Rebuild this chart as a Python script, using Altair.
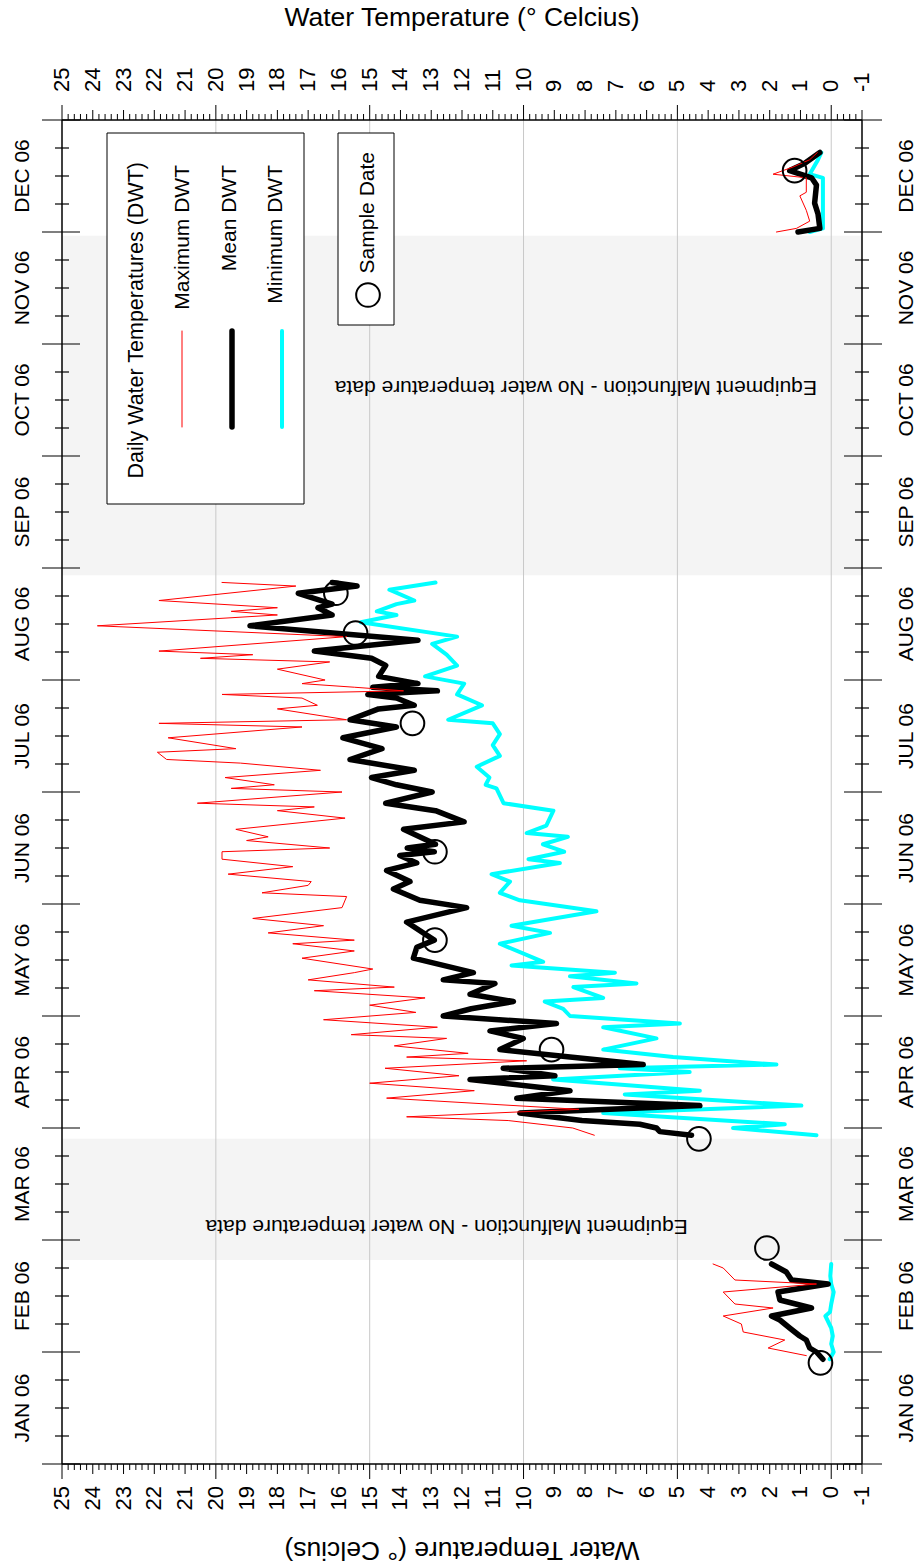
import altair as alt
import pandas as pd

FONT = "Liberation Sans"
W, H = 800, 1344  # plot area in pixels

# ---- daily water temperatures (deg C) -------------------------------------
max_dates = [
    "2006-01-31", "2006-02-02", "2006-02-04", "2006-02-06", "2006-02-08", "2006-02-10",
    "2006-02-12", "2006-02-13", "2006-02-16", "2006-02-18", "2006-02-19", "2006-02-22",
    "2006-02-23",
    "2006-03-30", "2006-04-01", "2006-04-03", "2006-04-04", "2006-04-06", "2006-04-09",
    "2006-04-11", "2006-04-13", "2006-04-15", "2006-04-17", "2006-04-19", "2006-04-20",
    "2006-04-21", "2006-04-23", "2006-04-25", "2006-04-26", "2006-04-28", "2006-04-30",
    "2006-05-02", "2006-05-04", "2006-05-06", "2006-05-08", "2006-05-09", "2006-05-11",
    "2006-05-13", "2006-05-14", "2006-05-17", "2006-05-19", "2006-05-21", "2006-05-22",
    "2006-05-24", "2006-05-26", "2006-05-28", "2006-05-31", "2006-06-03", "2006-06-04",
    "2006-06-06", "2006-06-07", "2006-06-09", "2006-06-11", "2006-06-13", "2006-06-15",
    "2006-06-16", "2006-06-18", "2006-06-19", "2006-06-21", "2006-06-24", "2006-06-26",
    "2006-06-27", "2006-06-28", "2006-07-01", "2006-07-02", "2006-07-03", "2006-07-05",
    "2006-07-07", "2006-07-09", "2006-07-10", "2006-07-12", "2006-07-13", "2006-07-16",
    "2006-07-19", "2006-07-20", "2006-07-21", "2006-07-24", "2006-07-25", "2006-07-27",
    "2006-07-28", "2006-07-29", "2006-07-30", "2006-07-31", "2006-08-01", "2006-08-04",
    "2006-08-06", "2006-08-07", "2006-08-08", "2006-08-09", "2006-08-13", "2006-08-16",
    "2006-08-19", "2006-08-20", "2006-08-21", "2006-08-23", "2006-08-27", "2006-08-28",
    "2006-12-01", "2006-12-02", "2006-12-04", "2006-12-07", "2006-12-11", "2006-12-12",
    "2006-12-16", "2006-12-17", "2006-12-19", "2006-12-21", "2006-12-23",
]
max_temps = [
    0.81, 2.05, 1.51, 2.86, 2.92, 3.51,
    1.89, 3.13, 3.51, 0.48, 3.13, 3.51,
    3.84,
    7.7, 8.4, 10.5, 13.8, 8.2, 14.45,
    11.6, 15.0, 12.1, 14.5, 9.9, 13.8,
    11.8, 14.2, 12.5, 15.6, 12.8, 16.5,
    13.5, 15.0, 13.2, 16.8, 14.2, 17.0,
    15.5, 14.9, 17.2, 15.5, 17.5, 15.5,
    18.3, 16.5, 18.8, 15.9, 15.75, 18.5,
    17.0, 16.9, 19.6, 17.5, 19.8, 19.8,
    16.3, 19.0, 18.3, 19.35, 15.8, 18.0,
    16.8, 20.6, 15.9, 19.5, 18.1, 19.7,
    16.6, 19.2, 21.6, 21.9, 19.35, 21.55,
    17.2, 21.85, 15.75, 18.0, 16.7, 17.2,
    19.8, 13.9, 15.5, 17.2, 16.45, 18.0,
    16.3, 20.5, 18.8, 21.85, 15.75, 23.85,
    18.0, 19.5, 18.0, 21.85, 17.4, 19.8,
    1.78, 1.13, 0.70, 0.81, 1.02, 0.81,
    0.81, 1.89, 1.24, 0.70, 0.45,
]

mean_dates = [
    "2006-01-30", "2006-02-01", "2006-02-02", "2006-02-04", "2006-02-05", "2006-02-07",
    "2006-02-09", "2006-02-10", "2006-02-12", "2006-02-14", "2006-02-16", "2006-02-18",
    "2006-02-19", "2006-02-21", "2006-02-23",
    "2006-03-30", "2006-03-31", "2006-04-01", "2006-04-02", "2006-04-03", "2006-04-05",
    "2006-04-07", "2006-04-09", "2006-04-11", "2006-04-14", "2006-04-15", "2006-04-17",
    "2006-04-18", "2006-04-20", "2006-04-22", "2006-04-25", "2006-04-27", "2006-04-29",
    "2006-05-01", "2006-05-03", "2006-05-05", "2006-05-07", "2006-05-10", "2006-05-11",
    "2006-05-13", "2006-05-17", "2006-05-20", "2006-05-22", "2006-05-27", "2006-05-31",
    "2006-06-02", "2006-06-05", "2006-06-07", "2006-06-10", "2006-06-12", "2006-06-14",
    "2006-06-15", "2006-06-16", "2006-06-17", "2006-06-21", "2006-06-23", "2006-06-26",
    "2006-06-28", "2006-07-01", "2006-07-03", "2006-07-05", "2006-07-07", "2006-07-10",
    "2006-07-13", "2006-07-16", "2006-07-19", "2006-07-21", "2006-07-24", "2006-07-25",
    "2006-07-27", "2006-07-28", "2006-07-29", "2006-07-30", "2006-07-31", "2006-08-02",
    "2006-08-05", "2006-08-07", "2006-08-09", "2006-08-12", "2006-08-16", "2006-08-19",
    "2006-08-21", "2006-08-22", "2006-08-25", "2006-08-27", "2006-08-28",
    "2006-12-01", "2006-12-02", "2006-12-06", "2006-12-09", "2006-12-14", "2006-12-16",
    "2006-12-18", "2006-12-20", "2006-12-23",
]
mean_temps = [
    0.27, 0.48, 0.70, 0.81, 1.02, 1.35,
    1.67, 1.94, 0.64, 1.67, 1.73, 0.10,
    1.29, 1.46, 1.94,
    4.54, 5.57, 5.68, 6.22, 8.10, 10.12,
    4.27, 10.22, 8.49, 11.74, 8.98, 10.66,
    6.11, 8.49, 10.77, 10.01, 11.09, 8.93,
    12.61, 11.70, 10.33, 11.74, 10.93, 12.61,
    11.63, 13.58, 13.47, 12.90, 13.80, 11.85,
    13.37, 14.23, 13.69, 14.45, 13.47, 14.02,
    12.90, 13.78, 12.86, 13.90, 11.93, 12.86,
    14.48, 12.97, 14.13, 14.94, 13.55, 15.64,
    14.60, 15.87, 14.13, 15.64, 14.71, 13.55,
    14.13, 15.06, 12.80, 14.90, 13.43, 14.71,
    14.48, 14.94, 16.80, 13.43, 18.89, 16.22,
    16.68, 16.22, 17.32, 15.41, 16.22,
    1.08, 0.37, 0.43, 0.54, 0.48, 0.64,
    1.35, 0.86, 0.37,
]

min_dates = [
    "2006-01-30", "2006-02-01", "2006-02-03", "2006-02-05", "2006-02-07", "2006-02-10",
    "2006-02-11", "2006-02-13", "2006-02-16", "2006-02-18", "2006-02-20", "2006-02-23",
    "2006-03-30", "2006-04-01", "2006-04-02", "2006-04-05", "2006-04-07", "2006-04-10",
    "2006-04-11", "2006-04-14", "2006-04-16", "2006-04-17", "2006-04-18", "2006-04-20",
    "2006-04-22", "2006-04-25", "2006-04-28", "2006-04-29", "2006-05-01", "2006-05-03",
    "2006-05-05", "2006-05-06", "2006-05-09", "2006-05-10", "2006-05-12", "2006-05-13",
    "2006-05-15", "2006-05-16", "2006-05-21", "2006-05-24", "2006-05-26", "2006-05-30",
    "2006-06-02", "2006-06-04", "2006-06-07", "2006-06-09", "2006-06-12", "2006-06-13",
    "2006-06-15", "2006-06-17", "2006-06-19", "2006-06-20", "2006-06-22", "2006-06-26",
    "2006-06-28", "2006-07-02", "2006-07-03", "2006-07-05", "2006-07-08", "2006-07-11",
    "2006-07-14", "2006-07-17", "2006-07-20", "2006-07-21", "2006-07-25", "2006-07-28",
    "2006-07-31", "2006-08-02", "2006-08-05", "2006-08-08", "2006-08-11", "2006-08-13",
    "2006-08-17", "2006-08-19", "2006-08-20", "2006-08-22", "2006-08-23", "2006-08-26",
    "2006-08-28",
    "2006-12-01", "2006-12-02", "2006-12-09", "2006-12-16", "2006-12-17", "2006-12-21",
    "2006-12-23",
]
min_temps = [
    0.05, -0.08, 0.0, -0.05, 0.0, 0.19,
    0.04, 0.0, -0.08, 0.0, 0.03, 0.0,
    0.48, 3.19, 1.51, 7.41, 0.97, 6.71,
    4.27, 9.04, 4.60, 6.87, 1.78, 5.14,
    7.41, 5.68, 7.41, 4.92, 8.49, 8.71,
    9.31, 7.41, 8.38, 6.33, 8.49, 7.03,
    10.39, 9.36, 10.77, 9.14, 10.39, 7.63,
    10.12, 10.77, 10.44, 11.04, 8.82, 9.84,
    8.68, 9.37, 8.56, 9.90, 9.26, 9.03,
    10.65, 10.88, 11.23, 11.11, 11.52, 10.77,
    11.00, 10.77, 11.00, 12.45, 11.35, 12.16,
    11.93, 13.20, 12.16, 12.50, 12.97, 12.16,
    15.29, 14.13, 14.77, 14.13, 13.55, 14.36,
    12.86,
    0.70, 0.27, 0.27, 0.27, 0.70, 0.43,
    0.32,
]

# water samples
sample_dates = ["2006-01-29", "2006-02-27", "2006-03-29", "2006-04-22", "2006-05-22",
                "2006-06-15", "2006-07-20", "2006-08-14", "2006-08-25", "2006-12-18"]
sample_temps = [0.35, 2.09, 4.30, 9.09, 12.88, 12.88, 13.61, 15.46, 16.10, 1.19]

# logger outages
outage_starts = ["2006-02-24", "2006-08-30"]
outage_ends = ["2006-03-29", "2006-11-30"]
outage_note = "Equipment Malfunction - No water temperature data"
note_temps = [12.5, 8.3]
note_dates = ["2006-03-05", "2006-10-20"]

month_labels = ["JAN 06", "FEB 06", "MAR 06", "APR 06", "MAY 06", "JUN 06",
                "JUL 06", "AUG 06", "SEP 06", "OCT 06", "NOV 06", "DEC 06"]
temp_labels = list(range(-1, 26))
grid_temps = [0, 5, 10, 15, 20]
axis_title = "Water Temperature (\u00b0 Celcius)"


def month_pos(d):
    """Position on the time axis: every month gets the same height."""
    ts = pd.Timestamp(d)
    return ts.month - 1 + (ts.day - 1) / ts.days_in_month


def series_frame(dates, temps):
    df = pd.DataFrame({"date": pd.to_datetime(dates), "temp": temps})
    df["pos"] = [month_pos(d) for d in dates]
    # break the line wherever the logger was offline for more than a week
    df["seg"] = (df["date"].diff().dt.days.fillna(0) > 7).cumsum()
    return df


xs = alt.Scale(domain=[-1, 25], reverse=True, nice=False, zero=False)
ys = alt.Scale(domain=[0, 12], nice=False, zero=False)
X = lambda f: alt.X(f, type="quantitative", scale=xs, axis=None)
Y = lambda f: alt.Y(f, type="quantitative", scale=ys, axis=None)
one = pd.DataFrame({"k": [0]})

# ---- background: outage bands and grid ------------------------------------
outages = pd.DataFrame({"p0": [month_pos(d) for d in outage_starts],
                        "p1": [month_pos(d) for d in outage_ends]})
bands = alt.Chart(outages).mark_rect(color="#f4f4f4").encode(
    y=Y("p0"), y2="p1", x=alt.value(0), x2=alt.value(W))

grid = alt.Chart(pd.DataFrame({"t": grid_temps})).mark_rule(
    color="#c8c8c8", strokeWidth=1).encode(x=X("t"), y=alt.value(0), y2=alt.value(H))

notes = pd.DataFrame({"temp": note_temps, "pos": [month_pos(d) for d in note_dates],
                      "txt": [outage_note, outage_note]})
note_text = alt.Chart(notes).mark_text(
    angle=180, fontSize=21, font=FONT, color="black", align="center", baseline="middle"
).encode(x=X("temp"), y=Y("pos"), text="txt:N")


# ---- temperature series -----------------------------------------------------
def series_line(dates, temps, color, width):
    return alt.Chart(series_frame(dates, temps)).mark_line(
        color=color, strokeWidth=width, strokeJoin="round", strokeCap="round"
    ).encode(x=X("temp"), y=Y("pos"), detail="seg:N", order="pos:Q")


min_line = series_line(min_dates, min_temps, "#00ffff", 4)
mean_line = series_line(mean_dates, mean_temps, "black", 5.5)
max_line = series_line(max_dates, max_temps, "#ff0000", 1)

samples = pd.DataFrame({"temp": sample_temps, "pos": [month_pos(d) for d in sample_dates]})
sample_pts = alt.Chart(samples).mark_point(
    shape="circle", filled=False, size=560, strokeWidth=2, color="black", opacity=1
).encode(x=X("temp"), y=Y("pos"))

# ---- legend boxes -------------------------------------------------------------
def box(x0, y0, x1, y1):
    return alt.Chart(one).mark_rect(fill="white", stroke="black", strokeWidth=1).encode(
        x=alt.value(x0), x2=alt.value(x1), y=alt.value(y0), y2=alt.value(y1))


def vtext(txt, x, y, size=21, align="right"):
    return alt.Chart(one).mark_text(
        angle=270, fontSize=size, font=FONT, color="black", align=align, baseline="middle"
    ).encode(x=alt.value(x), y=alt.value(y), text=alt.value(txt))


def swatch(x, color, width):
    return alt.Chart(one).mark_rule(color=color, strokeWidth=width, strokeCap="round").encode(
        x=alt.value(x), y=alt.value(211), y2=alt.value(307))


legend = [
    box(45, 13, 242, 384),
    vtext("Daily Water Temperatures (DWT)", 75, 42, size=21.5),
    vtext("Maximum DWT", 121, 45),
    vtext("Mean DWT", 168, 45),
    vtext("Minimum DWT", 214, 45),
    swatch(120, "#ff0000", 1),
    swatch(170, "black", 5.5),
    swatch(220, "#00ffff", 4),
    box(276, 13, 332, 205),
    vtext("Sample Date", 306, 32),
    alt.Chart(one).mark_point(shape="circle", filled=False, size=560, strokeWidth=2,
                              color="black", opacity=1).encode(
        x=alt.value(306), y=alt.value(175)),
]

# ---- axes -----------------------------------------------------------------------
major_t = pd.DataFrame({"t": [t for t in temp_labels if t % 5 == 0]})
unit_t = pd.DataFrame({"t": [t for t in temp_labels if t % 5 != 0]})
minor_t = pd.DataFrame({"t": [t + k / 5 for t in temp_labels[:-1] for k in range(1, 5)]})


def temp_ticks(df, length):
    top = alt.Chart(df).mark_rule(color="black", strokeWidth=1).encode(
        x=X("t"), y=alt.value(0), y2=alt.value(-length))
    bottom = alt.Chart(df).mark_rule(color="black", strokeWidth=1).encode(
        x=X("t"), y=alt.value(H), y2=alt.value(H + length))
    return [top, bottom]


tlab = pd.DataFrame({"t": temp_labels, "label": [str(t) for t in temp_labels]})
temp_text_top = alt.Chart(tlab).mark_text(
    angle=270, fontSize=22, font=FONT, color="black", align="left", baseline="middle"
).encode(x=X("t"), y=alt.value(-28), text="label:N")
temp_text_bottom = alt.Chart(tlab).mark_text(
    angle=270, fontSize=22, font=FONT, color="black", align="right", baseline="middle"
).encode(x=X("t"), y=alt.value(H + 22), text="label:N")

major_m = pd.DataFrame({"p": list(range(13))})
minor_m = pd.DataFrame({"p": [m + q / 4 for m in range(12) for q in (1, 2, 3)]})


def month_ticks(df, inner, outer):
    left = alt.Chart(df).mark_rule(color="black", strokeWidth=1.2).encode(
        y=Y("p"), x=alt.value(-outer), x2=alt.value(inner))
    right = alt.Chart(df).mark_rule(color="black", strokeWidth=1.2).encode(
        y=Y("p"), x=alt.value(W - inner), x2=alt.value(W + outer))
    return [left, right]


mlab = pd.DataFrame({"c": [m + 0.5 for m in range(12)], "label": month_labels})
month_text = [
    alt.Chart(mlab).mark_text(angle=270, fontSize=21, font=FONT, color="black",
                              align="center", baseline="middle").encode(
        y=Y("c"), x=alt.value(xpos), text="label:N")
    for xpos in (-39, W + 45)
]

frame = [
    alt.Chart(one).mark_rule(color="black", strokeWidth=1.5).encode(
        x=alt.value(0), y=alt.value(0), y2=alt.value(H)),
    alt.Chart(one).mark_rule(color="black", strokeWidth=1.5).encode(
        x=alt.value(W), y=alt.value(0), y2=alt.value(H)),
    alt.Chart(one).mark_rule(color="black", strokeWidth=1.5).encode(
        x=alt.value(0), x2=alt.value(W), y=alt.value(0)),
    alt.Chart(one).mark_rule(color="black", strokeWidth=1.5).encode(
        x=alt.value(0), x2=alt.value(W), y=alt.value(H)),
]

titles = [
    alt.Chart(one).mark_text(fontSize=26.5, font=FONT, color="black", align="center",
                             baseline="middle").encode(
        x=alt.value(W / 2), y=alt.value(-102), text=alt.value(axis_title)),
    alt.Chart(one).mark_text(fontSize=26.5, font=FONT, color="black", align="center",
                             baseline="middle", angle=180).encode(
        x=alt.value(W / 2), y=alt.value(H + 86), text=alt.value(axis_title)),
]

layers = (
    [bands, grid, note_text, min_line, mean_line, max_line, sample_pts]
    + legend
    + temp_ticks(major_t, 15) + temp_ticks(unit_t, 10) + temp_ticks(minor_t, 6)
    + month_ticks(major_m, 18, 20) + month_ticks(minor_m, 7, 7)
    + frame
    + [temp_text_top, temp_text_bottom] + month_text + titles
)

chart = alt.layer(*layers).properties(
    width=W, height=H,
    padding={"left": 62, "top": 120, "right": 54, "bottom": 104},
    autosize=alt.AutoSizeParams(type="none"),
).configure_view(strokeWidth=0)

chart.save("out.html", embed_options={"renderer": "svg", "actions": False})
